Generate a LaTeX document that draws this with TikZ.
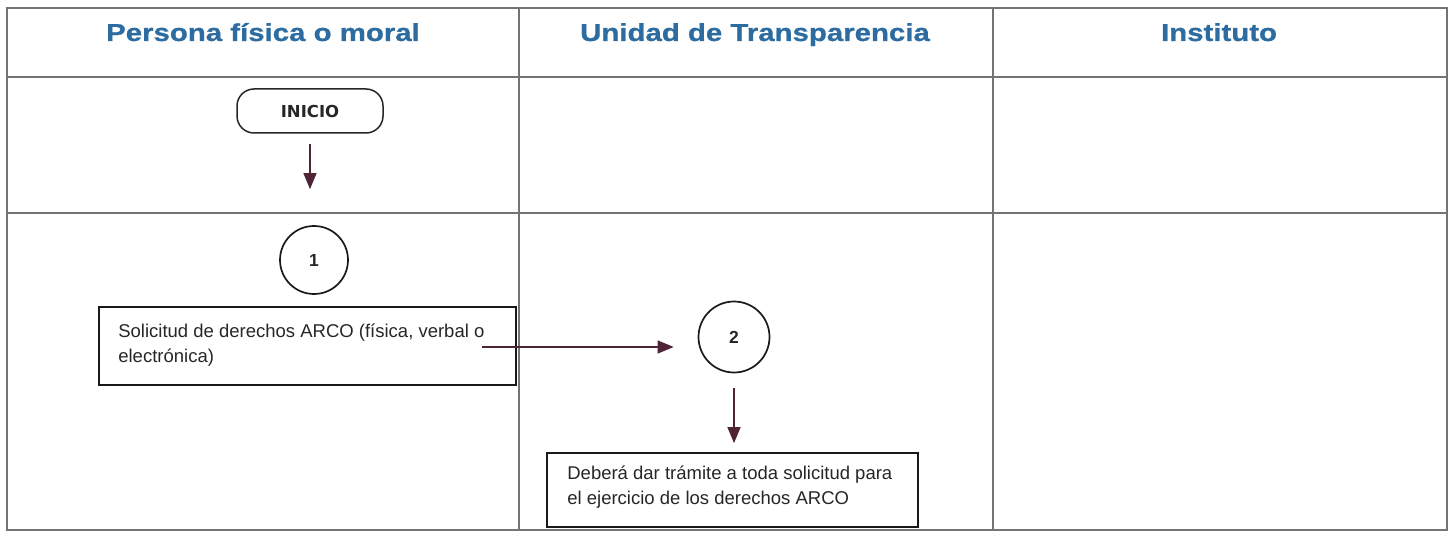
\documentclass[tikz,border=0pt]{standalone}
\usepackage{fontspec}
\setmainfont{Liberation Sans}
\newfontfamily\inifont{DejaVu Sans}
\newfontfamily\hdrfont[FakeStretch=1.2,FakeBold=0.8]{Liberation Sans Bold}
\usetikzlibrary{arrows.meta}
\definecolor{hdrblue}{RGB}{44,108,160}
\definecolor{flowred}{RGB}{78,36,54}
\definecolor{gridgray}{RGB}{115,115,115}
\tikzset{
  grid line/.style={draw=gridgray, line width=1.4pt},
  hdr/.style={anchor=base, font=\hdrfont\fontsize{24.5}{28}\selectfont, text=hdrblue},
  terminal/.style={draw=black!85, line width=1.5pt, rounded corners=17pt, minimum width=146pt, minimum height=44pt, font=\inifont\fontsize{16.5}{18}\selectfont\bfseries, text=black!85},
  stepcircle/.style={draw=black!90, circle, line width=1.7pt, inner sep=0pt, font=\fontsize{17.5}{18}\selectfont\bfseries, text=black!85},
  procbox/.style={draw=black!90, line width=1.7pt},
  boxtext/.style={anchor=base west, inner sep=0pt, align=left, font=\fontsize{18.5}{25}\selectfont, text=black!85},
  flow/.style={draw=flowred, line width=1.2pt, -{Triangle[width=13pt,length=16pt]}}
}
\begin{document}
\begin{tikzpicture}[x=1pt, y=-1pt]
\useasboundingbox (0,0) rectangle (1455,537);
% table
\draw[grid line] (7,8) rectangle (1447,530);
\draw[grid line] (7,77) -- (1447,77);
\draw[grid line] (7,213) -- (1447,213);
\draw[grid line] (519,8) -- (519,530);
\draw[grid line] (993,8) -- (993,530);
% headers
\node[hdr] (h1) at (263,41) {Persona física o moral};
\node[hdr] (h2) at (755,41) {Unidad de Transparencia};
\node[hdr] (h3) at (1219,41) {Instituto};
% nodes
\node[terminal] (ini) at (310,111) {INICIO};
\node[stepcircle, minimum size=68pt] (c1) at (314,260) {1};
\node[procbox, minimum width=417pt, minimum height=78pt] (b1) at (307.5,346) {};
\node[boxtext] (t1) at ([xshift=20pt,yshift=-56pt]b1.north west)
  {Solicitud de derechos ARCO (física, verbal o\\electrónica)};
\node[stepcircle, minimum size=71pt] (c2) at (734,337) {2};
\node[procbox, minimum width=371pt, minimum height=74pt] (b2) at (732.5,490) {};
\node[boxtext] (t2) at ([xshift=21pt,yshift=-52pt]b2.north west)
  {Deberá dar trámite a toda solicitud para\\el ejercicio de los derechos ARCO};
% connectors
\coordinate (a0s) at ([yshift=-10pt]ini.south);
\coordinate (a0e) at ([yshift=36pt]c1.north);
\coordinate (a1s) at ([xshift=-35pt,yshift=-1pt]b1.east);
\coordinate (a2s) at ([yshift=-15pt]c2.south);
\coordinate (a2e) at ([yshift=9pt]b2.north);
\draw[flow] (a0s) -- (a0s |- a0e);
\draw[flow] (a1s) -- ([xshift=-24pt]c2.west |- a1s);
\draw[flow] (a2s) -- (a2s |- a2e);
\end{tikzpicture}
\end{document}
